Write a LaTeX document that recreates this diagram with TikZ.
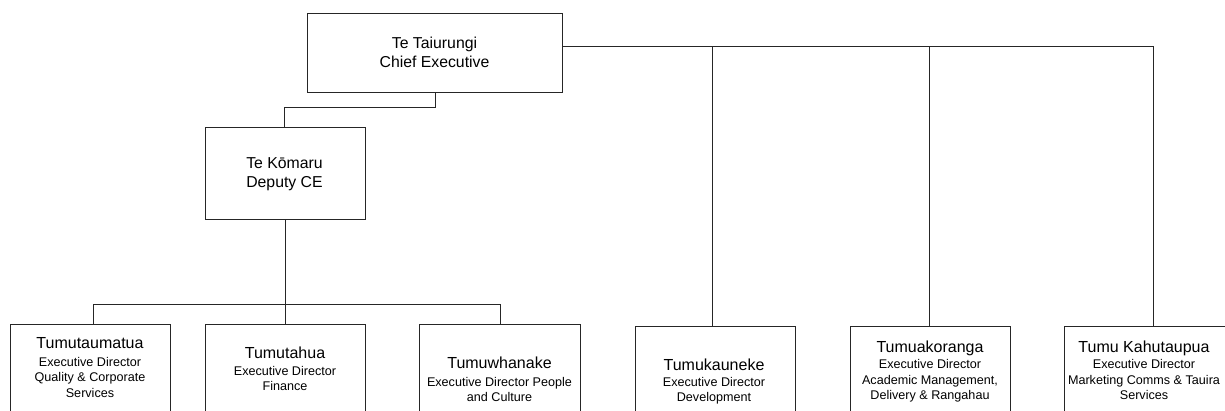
\documentclass[tikz,border=0pt]{standalone}
\usepackage{fontspec}
\setmainfont{Liberation Sans}
\begin{document}
\begin{tikzpicture}[x=1pt,y=1pt,
  box/.style={draw=black!85,line width=0.9pt,inner sep=0pt,anchor=north west},
  link/.style={draw=black!85,line width=0.9pt},
  head/.style={anchor=base,inner sep=0pt,font=\fontsize{15.8}{19.2}\selectfont,align=center},
  title/.style={anchor=base,inner sep=0pt,font=\fontsize{16}{18}\selectfont},
  sub/.style={anchor=base,inner sep=0pt,font=\fontsize{12.6}{15.7}\selectfont,align=center}]
\path[use as bounding box,clip] (0,0) rectangle (1225,-410);
\fill[white] (0,0) rectangle (1225,-410);

% boxes
\node[box,minimum width=255pt,minimum height=79pt] (ce) at (307,-13) {};
\node[box,minimum width=160pt,minimum height=92pt] (dep) at (205,-127) {};
\node[box,minimum width=160pt,minimum height=92pt] (b1) at (10,-324) {};
\node[box,minimum width=160pt,minimum height=92pt] (b2) at (205,-324) {};
\node[box,minimum width=161pt,minimum height=92pt] (b3) at (419,-324) {};
\node[box,minimum width=160pt,minimum height=92pt] (b4) at (635,-326) {};
\node[box,minimum width=160pt,minimum height=92pt] (b5) at (850,-326) {};
\node[box,minimum width=172pt,minimum height=92pt] (b6) at (1064,-326) {};

% labels (multi-line nodes sit on the baseline of their last line)
\node[head] (ceT) at (434.5,-67.4) {Te Taiurungi\\Chief Executive};
\node[head] (depT) at (284.5,-187.4) {Te Kōmaru\\Deputy CE};

\node[title] (b1t) at (90,-348.7) {Tumutaumatua};
\node[sub] (b1s) at (90,-397.4) {Executive Director\\Quality \& Corporate\\Services};
\node[title] (b2t) at (285,-358.7) {Tumutahua};
\node[sub] (b2s) at (285,-390.7) {Executive Director\\Finance};
\node[title] (b3t) at (499.5,-368.7) {Tumuwhanake};
\node[sub] (b3s) at (499.5,-401.7) {Executive Director People\\and Culture};
\node[title] (b4t) at (714,-370.7) {Tumukauneke};
\node[sub] (b4s) at (714,-401.7) {Executive Director\\Development};
\node[title] (b5t) at (930,-352.4) {Tumuakoranga};
\node[sub] (b5s) at (930,-399.7) {Executive Director\\Academic Management,\\Delivery \& Rangahau};
\node[title] (b6t) at (1144,-352.4) {Tumu Kahutaupua};
\node[sub] (b6s) at (1144,-399.7) {Executive Director\\Marketing Comms \& Tauira\\Services};

% reporting lines
\coordinate (ceDrop) at (435,-107);
\coordinate (depBus) at (285,-304);
\coordinate (ceBus) at (562,-46);

\draw[link] (ce.south -| ceDrop) -- (ceDrop) -| ([xshift=-0.7pt]dep.north);
\draw[link] (dep.south) -- (b2.north);
\draw[link] (depBus) -| ([xshift=3.3pt]b1.north);
\draw[link] (depBus) -| ([xshift=0.5pt]b3.north);
\draw[link] (ceBus) -| ([xshift=3pt]b6.north);
\draw[link] ([xshift=-3pt]b4.north) -- ([xshift=-3pt]b4.north |- ceBus);
\draw[link] ([xshift=-1pt]b5.north) -- ([xshift=-1pt]b5.north |- ceBus);
\end{tikzpicture}
\end{document}
